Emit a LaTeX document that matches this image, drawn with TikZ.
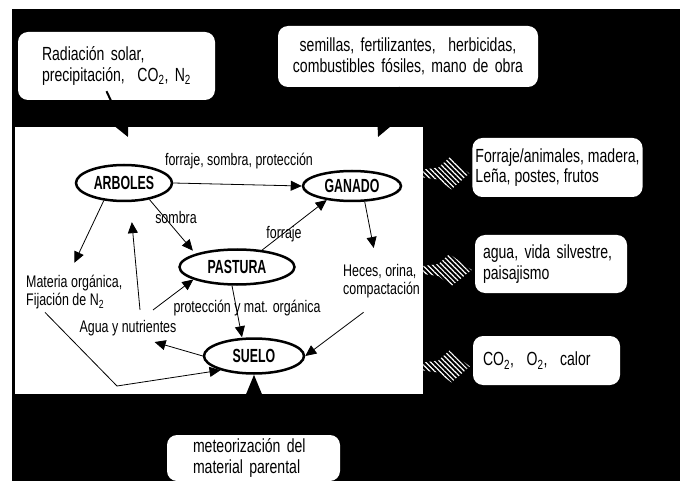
\documentclass[tikz,border=0pt]{standalone}
\usepackage{fontspec}
\setmainfont{Liberation Sans}[FakeStretch=0.74]
\newfontfamily\nodefont{Liberation Sans}[FakeStretch=0.65]
\usepackage{tikz}
\usetikzlibrary{arrows.meta,shapes,calc,patterns.meta}
\def\boxtext{\fontsize{19}{20.5}\selectfont}
\def\smalltext{\fontsize{16.8}{18.5}\selectfont}
\newcommand{\hatch}[2]{%
    \path ($(#1)+(0,6)$) coordinate (s) ($(#2)+(-3,6)$) coordinate (t);
    \fill[hatched] ($(s)+(0,-4)$) -- ($(s)+(15,-6)$) -- ($(s)+(26,-16)$) -- (t)
        -- ($(s)+(28,16)$) -- ($(s)+(15,6)$) -- ($(s)+(0,4)$) -- cycle;
}

\begin{document}
\begin{tikzpicture}[x=1pt,y=-1pt,
    box/.style={fill=white, rounded corners=10pt, align=left, inner ysep=0pt, font=\boxtext},
    unit/.style={ellipse, draw, line width=2.5pt, fill=white, inner sep=0pt,
        font=\nodefont\bfseries\fontsize{19}{20}\selectfont},
    lbl/.style={font=\smalltext, inner sep=1pt, align=left},
    flow/.style={-{Triangle[length=11pt,width=10pt]}, line width=0.8pt},
    feed/.style={-{Triangle[length=20pt,width=19pt]}, line width=2pt},
    hatched/.style={pattern={Lines[angle=-45,distance=3.5pt,line width=1.2pt]}, pattern color=white}]
    \useasboundingbox (0,0) rectangle (680,481);
    \fill[black] (12,9) rectangle (680,481);
    \node[fill=white, inner sep=0pt, minimum width=408pt, minimum height=267pt, anchor=north west] (frame) at (15,127) {};

    \node[box, text width=149pt, inner xsep=24pt, minimum height=68pt] (src1) at (116.5,66)
        {Radiación solar,\\ precipitación,~ CO\textsubscript{2}, N\textsubscript{2}};
    \node[box, align=center, text width=240pt, inner xsep=10pt, minimum height=61pt] (src2) at (408,56.5)
        {semillas, fertilizantes,~ herbicidas,\\ combustibles fósiles, mano de obra};
    \node[box, inner xsep=3pt, minimum width=169pt, minimum height=59pt] (out1) at (557.5,167.5)
        {Forraje/animales, madera,\\ Leña, postes, frutos};
    \node[box, text width=136pt, inner xsep=8pt, minimum height=58pt] (out2) at (551,264)
        {agua, vida silvestre,\\ paisajismo};
    \node[box, text width=127pt, inner xsep=10pt, minimum height=49pt] (out3) at (546.5,360.5)
        {CO\textsubscript{2},~ O\textsubscript{2},~ calor};
    \node[box, text width=121pt, inner xsep=26pt, minimum height=46pt] (base) at (253.5,458)
        {meteorización del\\ material parental};

    \node[unit, minimum width=96pt, minimum height=36pt] (arboles) at (124,183) {ARBOLES};
    \node[unit, minimum width=98pt, minimum height=30pt] (ganado) at (352,186) {GANADO};
    \node[unit, minimum width=115pt, minimum height=35pt] (pastura) at (237,267) {PASTURA};
    \node[unit, minimum width=100pt, minimum height=35pt] (suelo) at (254,356) {SUELO};

    \node[lbl] (top) at (239,161) {forraje, sombra, protección};
    \node[lbl] (shade) at (176,217) {sombra};
    \node[lbl] (fodder) at (284,234) {forraje};
    \node[lbl, anchor=west] (materia) at (25,292) {Materia orgánica,\\ Fijación de N\textsubscript{2}};
    \node[lbl] (agua) at (128,328) {Agua y nutrientes};
    \node[lbl] (prot) at (247,308) {protección y mat. orgánica};
    \node[lbl, anchor=west] (heces) at (342,281) {Heces, orina,\\ compactación};

    \coordinate (bend) at (117,386);
    \coordinate (in1) at (128,137);
    \coordinate (in2) at (378,137);

    \draw[flow] (arboles.east) -- (ganado.west);
    \draw[flow, shorten >=4pt] (arboles.-33) -- (pastura.north west);
    \draw[flow] (pastura.34) -- (ganado.-151);
    \draw[flow, shorten >=12pt] (arboles.-139) -- ([xshift=-5pt]materia.north);
    \draw[flow, shorten >=20pt] ([xshift=12pt,yshift=9pt]agua.north) -- ([xshift=6pt]arboles.south);
    \draw[flow] ([xshift=25pt,yshift=9pt]agua.north) -- (pastura.-164);
    \draw[flow] (suelo.west) -- ([xshift=-23pt,yshift=-5pt]agua.south east);
    \draw[flow] ([xshift=20pt,yshift=-2pt]materia.south west) -- (bend) -- (suelo.-157);
    \draw[flow] ([xshift=-5pt]pastura.south) -- ([xshift=-12pt]suelo.north);
    \draw[flow, shorten >=15pt] (ganado.-51) -- ([xshift=-5pt]heces.north);
    \draw[flow] ([xshift=-18pt,yshift=-13pt]heces.south) -- (suelo.east);

    \draw[feed] ([xshift=-10pt,yshift=9pt]src1.south) -- (in1);
    \draw[feed] ([xshift=-8pt]src2.south) -- (in2);
    \draw[feed, -{Triangle[length=19pt,width=15pt]}] (suelo.south |- base.north) -- (suelo.south);

    \hatch{frame.east |- out1.west}{out1.west}
    \hatch{frame.east |- out2.west}{out2.west}
    \hatch{frame.east |- out3.west}{out3.west}
\end{tikzpicture}
\end{document}
